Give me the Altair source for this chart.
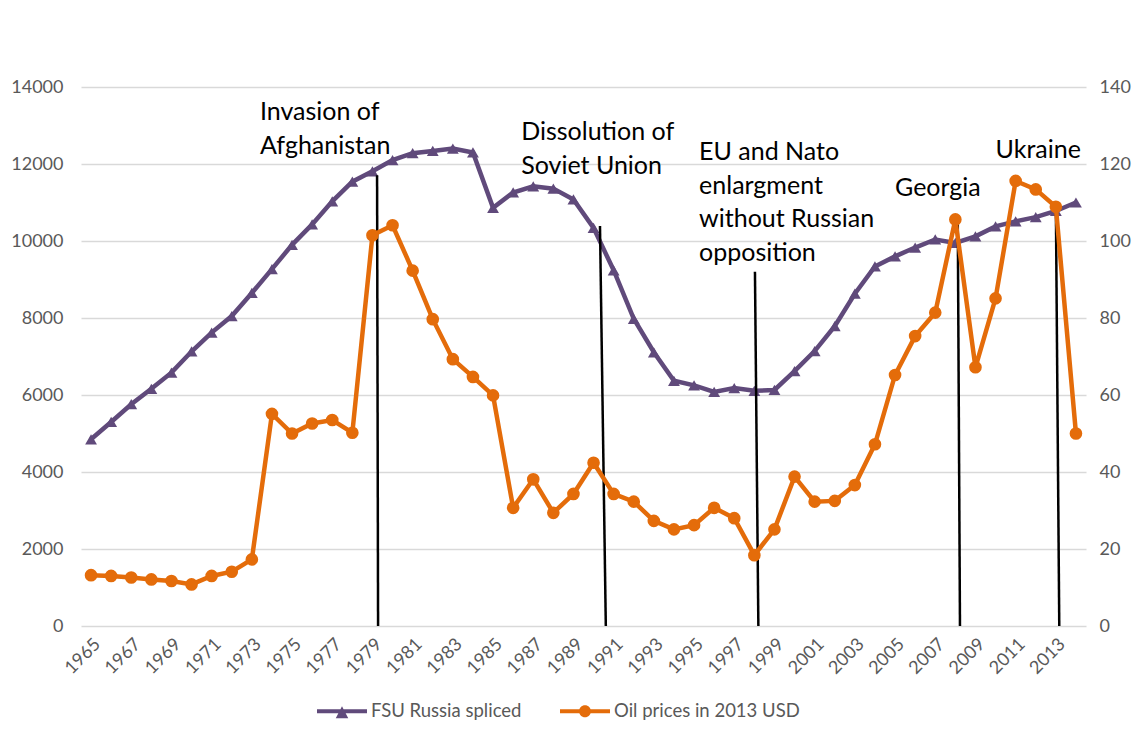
import altair as alt
import pandas as pd

# ---------------- data ----------------
years = list(range(1965, 2015))
fsu_russia = [4850, 5300, 5760, 6160, 6580, 7130, 7620, 8050, 8650, 9270,
              9900, 10430, 11030, 11540, 11810, 12100, 12280, 12340, 12400, 12300,
              10860, 11260, 11420, 11360, 11080, 10340, 9240, 7980, 7110, 6370,
              6250, 6080, 6180, 6110, 6130, 6620, 7140, 7790, 8630, 9340,
              9600, 9830, 10040, 9950, 10120, 10380, 10510, 10620, 10780, 11000]
oil_prices = [13.2, 13.0, 12.6, 12.1, 11.7, 10.8, 13.0, 14.1, 17.3, 55.1,
              50.0, 52.6, 53.5, 50.2, 101.5, 104.1, 92.3, 79.7, 69.3, 64.7,
              59.9, 30.7, 38.1, 29.4, 34.3, 42.4, 34.3, 32.3, 27.3, 25.1,
              26.2, 30.7, 28.0, 18.4, 25.1, 38.8, 32.3, 32.5, 36.6, 47.2,
              65.2, 75.3, 81.4, 105.6, 67.2, 85.1, 115.6, 113.4, 108.9, 50.0]

series_names = ["FSU Russia spliced", "Oil prices in 2013 USD"]
x_tick_years = list(range(1965, 2014, 2))
left_ticks = list(range(0, 14001, 2000))
right_ticks = list(range(0, 141, 20))

ann_labels = ["Invasion of\nAfghanistan", "Dissolution of\nSoviet Union",
              "EU and Nato\nenlargment\nwithout Russian\nopposition",
              "Georgia", "Ukraine"]
ann_text_year = [1973.4, 1986.4, 1995.25, 2005.0, 2010.0]
ann_text_value = [13130, 12620, 12100, 11170, 12150]
ann_rule_year_top = [1979.23, 1990.32, 1998.03, 2008.12, 2013.0]
ann_rule_year_bottom = [1979.28, 1990.61, 1998.2, 2008.23, 2013.17]
ann_rule_value_top = [11710, 10390, 9200, 10590, 10980]
ann_rule_value_bottom = [0, 0, 0, 0, 0]

# ---------------- tables ----------------
df = pd.DataFrame({"year": years, "fsu": fsu_russia, "oil": oil_prices})
ann_text = pd.DataFrame({"label": ann_labels, "year": ann_text_year, "value": ann_text_value})
ann_rules = pd.DataFrame({"x1": ann_rule_year_top, "x2": ann_rule_year_bottom,
                          "y1": ann_rule_value_top, "y2": ann_rule_value_bottom})
legend_df = pd.DataFrame({"series": series_names})

PURPLE = "#604A7B"
ORANGE = "#E46C0A"
GREY = "#595959"
FONT = "Lato"
LABEL_SIZE = 18

xscale = alt.Scale(domain=[1964.5, 2014.5], nice=False, zero=False)
xaxis = alt.Axis(values=x_tick_years, format="d", labelAngle=-45, grid=False,
                 ticks=False, domain=False, title=None, labelPadding=9,
                 labelOverlap=False, labelFlush=False,
                 labelFont=FONT, labelFontSize=LABEL_SIZE, labelColor=GREY)
yl_scale = alt.Scale(domain=[0, 14000], nice=False)
yr_scale = alt.Scale(domain=[0, 140], nice=False)

fsu_layer = alt.Chart(df).mark_line(
    color=PURPLE, strokeWidth=4.5,
    point=alt.OverlayMarkDef(shape="triangle-up", size=140, filled=True,
                             color=PURPLE, opacity=1)
).encode(
    x=alt.X("year:Q", scale=xscale, axis=xaxis),
    y=alt.Y("fsu:Q", scale=yl_scale,
            axis=alt.Axis(values=left_ticks, format="d", title=None, grid=True,
                          gridColor="#d9d9d9", gridWidth=1.5, ticks=False,
                          tickSize=0, domain=False, labelPadding=18, orient="left",
                          labelFont=FONT, labelFontSize=LABEL_SIZE, labelColor=GREY)),
)

rule_layer = alt.Chart(ann_rules).mark_rule(color="black", strokeWidth=2.5).encode(
    x=alt.X("x1:Q", scale=xscale),
    x2="x2:Q",
    y=alt.Y("y1:Q", scale=yl_scale),
    y2="y2:Q",
)

text_layer = alt.Chart(ann_text).mark_text(
    align="left", baseline="alphabetic", lineBreak="\n", lineHeight=33.5,
    font=FONT, fontSize=25, color="black"
).encode(
    x=alt.X("year:Q", scale=xscale),
    y=alt.Y("value:Q", scale=yl_scale),
    text="label:N",
)

path_tri = ("M-1,-0.08L1,-0.08L1,0.08L-1,0.08Z "
            "M-0.25,0.28L0,-0.2L0.25,0.28Z")
path_circ = ("M-1,-0.08L1,-0.08L1,0.08L-1,0.08Z "
             "M-0.24,0A0.24,0.24 0 1,1 0.24,0A0.24,0.24 0 1,1 -0.24,0Z")

leg = alt.Legend(title=None, orient="none", legendX=236, legendY=599,
                 direction="horizontal", symbolSize=2500, symbolStrokeWidth=0,
                 symbolOpacity=1, labelFont=FONT, labelFontSize=18.5, labelLimit=400,
                 labelColor=GREY, labelOffset=4, columnPadding=38)

legend_layer = alt.Chart(legend_df).transform_filter("false").mark_point(
    filled=True, opacity=1
).encode(
    color=alt.Color("series:N", scale=alt.Scale(domain=series_names, range=[PURPLE, ORANGE]), legend=leg),
    shape=alt.Shape("series:N", scale=alt.Scale(domain=series_names, range=[path_tri, path_circ]), legend=leg),
)

left = alt.layer(fsu_layer, rule_layer, text_layer, legend_layer)

oil_layer = alt.Chart(df).mark_line(
    color=ORANGE, strokeWidth=4.5,
    point=alt.OverlayMarkDef(shape="circle", size=160, filled=True,
                             color=ORANGE, opacity=1)
).encode(
    x=alt.X("year:Q", scale=xscale, axis=xaxis),
    y=alt.Y("oil:Q", scale=yr_scale,
            axis=alt.Axis(values=right_ticks, format="d", title=None, grid=False, ticks=False,
                          tickSize=0, domain=False, labelPadding=13, orient="right",
                          labelFont=FONT, labelFontSize=LABEL_SIZE, labelColor=GREY)),
)

chart = alt.layer(left, oil_layer).resolve_scale(y="independent").properties(
    width=1005, height=539,
    background="white",
    autosize=alt.AutoSizeParams(type="none"),
    padding={"left": 73, "top": 79, "right": 46, "bottom": 110},
).configure_view(stroke=None)

chart.save("out.html", embed_options={"renderer": "svg", "actions": False})
